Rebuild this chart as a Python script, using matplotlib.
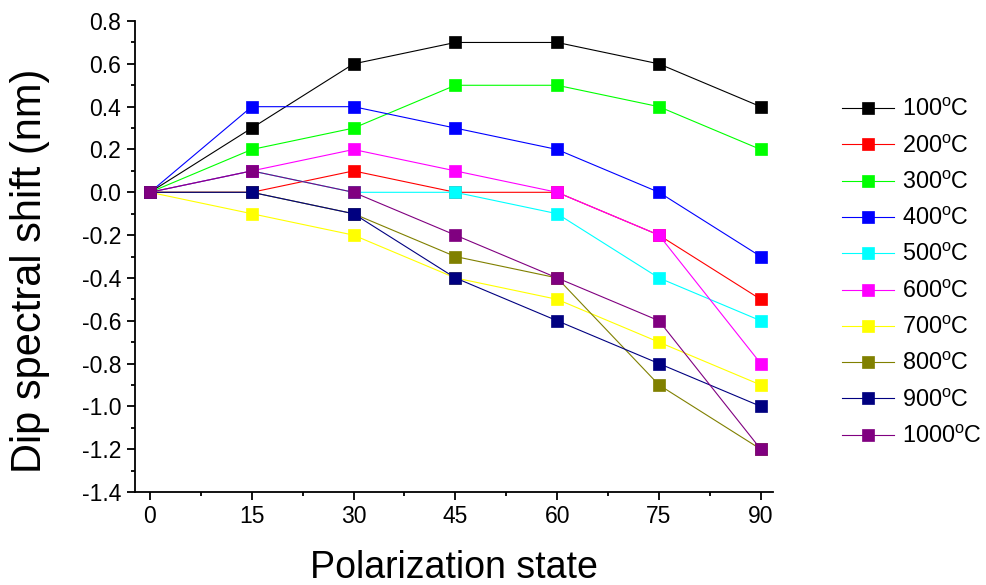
import numpy as np
import matplotlib.pyplot as plt
from matplotlib.ticker import MultipleLocator

# angulos de polarizacao
angles = [0, 15, 30, 45, 60, 75, 90]

temps = ['100', '200', '300', '400', '500', '600', '700', '800', '900', '1000']
cores = ['#000000', '#ff0000', '#00ff00', '#0000ff', '#00ffff',
         '#ff00ff', '#ffff00', '#808000', '#000080', '#800080']

shift_100 = [0, 0.3, 0.6, 0.7, 0.7, 0.6, 0.4]
shift_200 = [0, 0.0, 0.1, 0.0, 0.0, -0.2, -0.5]
shift_300 = [0, 0.2, 0.3, 0.5, 0.5, 0.4, 0.2]
shift_400 = [0, 0.4, 0.4, 0.3, 0.2, 0.0, -0.3]
shift_500 = [0, 0.1, 0.0, 0.0, -0.1, -0.4, -0.6]
shift_600 = [0, 0.1, 0.2, 0.1, 0.0, -0.2, -0.8]
shift_700 = [0, -0.1, -0.2, -0.4, -0.5, -0.7, -0.9]
shift_800 = [0, 0.0, -0.1, -0.3, -0.4, -0.9, -1.2]
shift_900 = [0, 0.0, -0.1, -0.4, -0.6, -0.8, -1.0]
shift_1000 = [0, 0.1, 0.0, -0.2, -0.4, -0.6, -1.2]

series = [shift_100, shift_200, shift_300, shift_400, shift_500,
          shift_600, shift_700, shift_800, shift_900, shift_1000]

plt.rcParams['font.family'] = ['Liberation Sans', 'DejaVu Sans']
plt.rcParams['mathtext.fontset'] = 'custom'
plt.rcParams['mathtext.rm'] = 'Liberation Sans'

fig = plt.figure(figsize=(9.87, 5.85), dpi=100)
ax = fig.add_axes([0.1368, 0.159, 0.646, 0.805])

for t, c, s in zip(temps, cores, series):
    ax.plot(angles, s, color=c, lw=0.8, marker='s', ms=8,
            markeredgecolor=c, markeredgewidth=0.5,
            label=t + r'$^\mathrm{o}$C')

ax.set_xlim(-2.2, 91.75)
ax.set_ylim(-1.4, 0.8)
ax.xaxis.set_major_locator(MultipleLocator(15))
ax.xaxis.set_minor_locator(MultipleLocator(7.5))
ax.yaxis.set_major_locator(MultipleLocator(0.2))
ax.yaxis.set_minor_locator(MultipleLocator(0.1))
ax.yaxis.set_major_formatter(plt.FuncFormatter(lambda v, p: '%.1f' % v))

ax.spines['top'].set_visible(False)
ax.spines['right'].set_visible(False)
ax.spines['left'].set_linewidth(1.3)
ax.spines['bottom'].set_linewidth(1.3)
ax.tick_params(which='major', direction='out', length=6, width=1.3, labelsize=16.5)
ax.tick_params(which='minor', direction='out', length=3, width=1.3)
ax.tick_params(axis='y', which='major', pad=4)

ax.set_xlabel('Polarization state', fontsize=27)
ax.set_ylabel('Dip spectral shift (nm)', fontsize=30)
ax.xaxis.set_label_coords(0.5, -0.123)
ax.yaxis.set_label_coords(-0.133, 0.469)

ax.legend(loc='upper left', bbox_to_anchor=(0.832, 0.868),
          bbox_transform=fig.transFigure, frameon=False, fontsize=16.8,
          numpoints=1, handlelength=2.2, handletextpad=0.35, labelspacing=0.57)

plt.savefig('out.png', dpi=100)
